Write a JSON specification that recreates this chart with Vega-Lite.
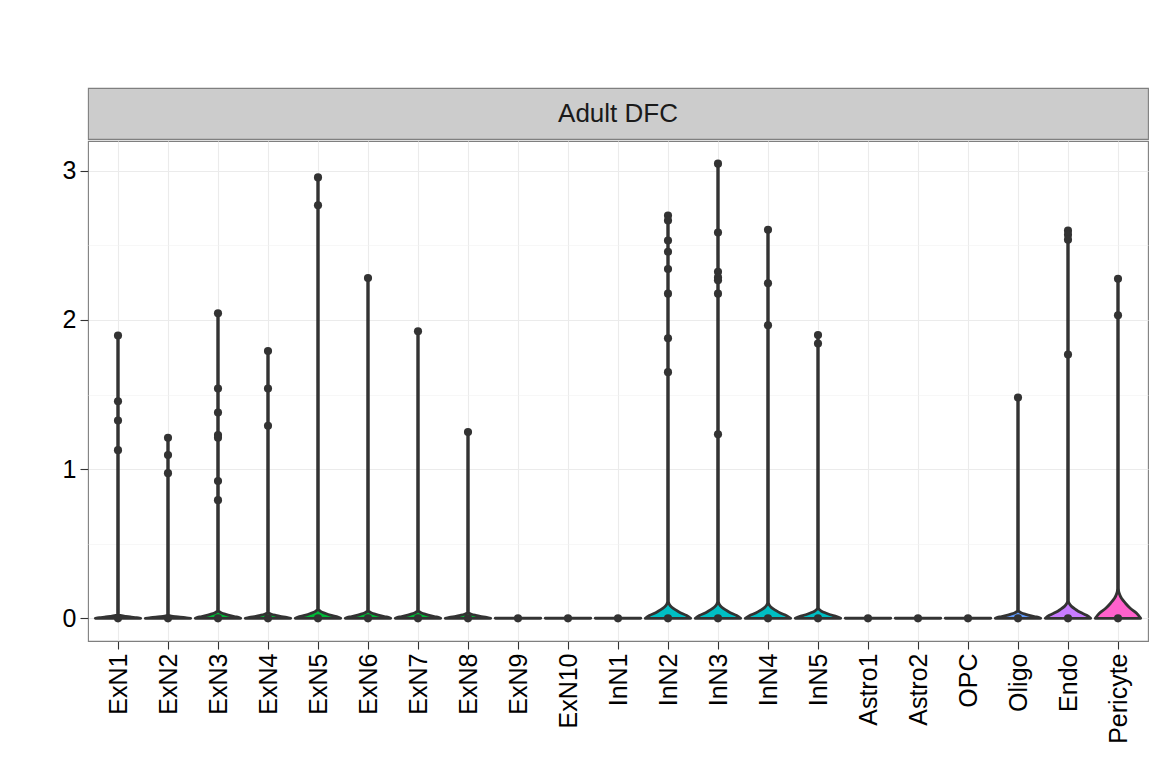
{
 "$schema": "https://vega.github.io/schema/vega-lite/v6.json",
 "background": "white",
 "padding": {"left": 61, "top": 87, "right": 5, "bottom": 5},
 "spacing": 0,
 "config": {"font": "Liberation Sans", "concat": {"spacing": 0}},
 "datasets": {
  "violin": [
   {"c":"ExN1","y":0,"lo":0.546,"hi":1.454},{"c":"ExN1","y":0.0044,"lo":0.628,"hi":1.372},{"c":"ExN1","y":0.0088,"lo":0.755,"hi":1.245},{"c":"ExN1","y":0.0132,"lo":0.85,"hi":1.15},{"c":"ExN1","y":0.0176,"lo":0.93,"hi":1.07},{"c":"ExN1","y":0.022,"lo":0.976,"hi":1.024},{"c":"ExN1","y":0.0264,"lo":0.992,"hi":1.008},{"c":"ExN1","y":1.895,"lo":0.994,"hi":1.006},
   {"c":"ExN2","y":0,"lo":1.546,"hi":2.454},{"c":"ExN2","y":0.0036,"lo":1.628,"hi":2.372},{"c":"ExN2","y":0.0072,"lo":1.755,"hi":2.245},{"c":"ExN2","y":0.0108,"lo":1.85,"hi":2.15},{"c":"ExN2","y":0.0144,"lo":1.93,"hi":2.07},{"c":"ExN2","y":0.018,"lo":1.976,"hi":2.024},{"c":"ExN2","y":0.0216,"lo":1.992,"hi":2.008},{"c":"ExN2","y":1.21,"lo":1.994,"hi":2.006},
   {"c":"ExN3","y":0,"lo":2.546,"hi":3.454},{"c":"ExN3","y":0.009,"lo":2.628,"hi":3.372},{"c":"ExN3","y":0.018,"lo":2.755,"hi":3.245},{"c":"ExN3","y":0.027,"lo":2.85,"hi":3.15},{"c":"ExN3","y":0.036,"lo":2.93,"hi":3.07},{"c":"ExN3","y":0.045,"lo":2.976,"hi":3.024},{"c":"ExN3","y":0.054,"lo":2.992,"hi":3.008},{"c":"ExN3","y":2.045,"lo":2.994,"hi":3.006},
   {"c":"ExN4","y":0,"lo":3.546,"hi":4.454},{"c":"ExN4","y":0.0068,"lo":3.628,"hi":4.372},{"c":"ExN4","y":0.0136,"lo":3.755,"hi":4.245},{"c":"ExN4","y":0.0204,"lo":3.85,"hi":4.15},{"c":"ExN4","y":0.0272,"lo":3.93,"hi":4.07},{"c":"ExN4","y":0.034,"lo":3.976,"hi":4.024},{"c":"ExN4","y":0.0408,"lo":3.992,"hi":4.008},{"c":"ExN4","y":1.792,"lo":3.994,"hi":4.006},
   {"c":"ExN5","y":0,"lo":4.546,"hi":5.454},{"c":"ExN5","y":0.0108,"lo":4.628,"hi":5.372},{"c":"ExN5","y":0.0216,"lo":4.755,"hi":5.245},{"c":"ExN5","y":0.0324,"lo":4.85,"hi":5.15},{"c":"ExN5","y":0.0432,"lo":4.93,"hi":5.07},{"c":"ExN5","y":0.054,"lo":4.976,"hi":5.024},{"c":"ExN5","y":0.0648,"lo":4.992,"hi":5.008},{"c":"ExN5","y":2.955,"lo":4.994,"hi":5.006},
   {"c":"ExN6","y":0,"lo":5.546,"hi":6.454},{"c":"ExN6","y":0.009,"lo":5.628,"hi":6.372},{"c":"ExN6","y":0.018,"lo":5.755,"hi":6.245},{"c":"ExN6","y":0.027,"lo":5.85,"hi":6.15},{"c":"ExN6","y":0.036,"lo":5.93,"hi":6.07},{"c":"ExN6","y":0.045,"lo":5.976,"hi":6.024},{"c":"ExN6","y":0.054,"lo":5.992,"hi":6.008},{"c":"ExN6","y":2.281,"lo":5.994,"hi":6.006},
   {"c":"ExN7","y":0,"lo":6.546,"hi":7.454},{"c":"ExN7","y":0.009,"lo":6.628,"hi":7.372},{"c":"ExN7","y":0.018,"lo":6.755,"hi":7.245},{"c":"ExN7","y":0.027,"lo":6.85,"hi":7.15},{"c":"ExN7","y":0.036,"lo":6.93,"hi":7.07},{"c":"ExN7","y":0.045,"lo":6.976,"hi":7.024},{"c":"ExN7","y":0.054,"lo":6.992,"hi":7.008},{"c":"ExN7","y":1.924,"lo":6.994,"hi":7.006},
   {"c":"ExN8","y":0,"lo":7.546,"hi":8.454},{"c":"ExN8","y":0.0068,"lo":7.628,"hi":8.372},{"c":"ExN8","y":0.0136,"lo":7.755,"hi":8.245},{"c":"ExN8","y":0.0204,"lo":7.85,"hi":8.15},{"c":"ExN8","y":0.0272,"lo":7.93,"hi":8.07},{"c":"ExN8","y":0.034,"lo":7.976,"hi":8.024},{"c":"ExN8","y":0.0408,"lo":7.992,"hi":8.008},{"c":"ExN8","y":1.248,"lo":7.994,"hi":8.006},
   {"c":"ExN9","y":0,"lo":8.546,"hi":9.454},{"c":"ExN9","y":0.001,"lo":8.546,"hi":9.454},
   {"c":"ExN10","y":0,"lo":9.546,"hi":10.454},{"c":"ExN10","y":0.001,"lo":9.546,"hi":10.454},
   {"c":"InN1","y":0,"lo":10.546,"hi":11.454},{"c":"InN1","y":0.001,"lo":10.546,"hi":11.454},
   {"c":"InN2","y":0,"lo":11.546,"hi":12.454},{"c":"InN2","y":0.019,"lo":11.628,"hi":12.372},{"c":"InN2","y":0.038,"lo":11.755,"hi":12.245},{"c":"InN2","y":0.057,"lo":11.85,"hi":12.15},{"c":"InN2","y":0.076,"lo":11.93,"hi":12.07},{"c":"InN2","y":0.095,"lo":11.976,"hi":12.024},{"c":"InN2","y":0.114,"lo":11.992,"hi":12.008},{"c":"InN2","y":2.699,"lo":11.994,"hi":12.006},
   {"c":"InN3","y":0,"lo":12.546,"hi":13.454},{"c":"InN3","y":0.019,"lo":12.628,"hi":13.372},{"c":"InN3","y":0.038,"lo":12.755,"hi":13.245},{"c":"InN3","y":0.057,"lo":12.85,"hi":13.15},{"c":"InN3","y":0.076,"lo":12.93,"hi":13.07},{"c":"InN3","y":0.095,"lo":12.976,"hi":13.024},{"c":"InN3","y":0.114,"lo":12.992,"hi":13.008},{"c":"InN3","y":3.047,"lo":12.994,"hi":13.006},
   {"c":"InN4","y":0,"lo":13.546,"hi":14.454},{"c":"InN4","y":0.018,"lo":13.628,"hi":14.372},{"c":"InN4","y":0.036,"lo":13.755,"hi":14.245},{"c":"InN4","y":0.054,"lo":13.85,"hi":14.15},{"c":"InN4","y":0.072,"lo":13.93,"hi":14.07},{"c":"InN4","y":0.09,"lo":13.976,"hi":14.024},{"c":"InN4","y":0.108,"lo":13.992,"hi":14.008},{"c":"InN4","y":2.604,"lo":13.994,"hi":14.006},
   {"c":"InN5","y":0,"lo":14.546,"hi":15.454},{"c":"InN5","y":0.012,"lo":14.628,"hi":15.372},{"c":"InN5","y":0.024,"lo":14.755,"hi":15.245},{"c":"InN5","y":0.036,"lo":14.85,"hi":15.15},{"c":"InN5","y":0.048,"lo":14.93,"hi":15.07},{"c":"InN5","y":0.06,"lo":14.976,"hi":15.024},{"c":"InN5","y":0.072,"lo":14.992,"hi":15.008},{"c":"InN5","y":1.898,"lo":14.994,"hi":15.006},
   {"c":"Astro1","y":0,"lo":15.546,"hi":16.454},{"c":"Astro1","y":0.001,"lo":15.546,"hi":16.454},
   {"c":"Astro2","y":0,"lo":16.546,"hi":17.454},{"c":"Astro2","y":0.001,"lo":16.546,"hi":17.454},
   {"c":"OPC","y":0,"lo":17.546,"hi":18.454},{"c":"OPC","y":0.001,"lo":17.546,"hi":18.454},
   {"c":"Oligo","y":0,"lo":18.546,"hi":19.454},{"c":"Oligo","y":0.009,"lo":18.628,"hi":19.372},{"c":"Oligo","y":0.018,"lo":18.755,"hi":19.245},{"c":"Oligo","y":0.027,"lo":18.85,"hi":19.15},{"c":"Oligo","y":0.036,"lo":18.93,"hi":19.07},{"c":"Oligo","y":0.045,"lo":18.976,"hi":19.024},{"c":"Oligo","y":0.054,"lo":18.992,"hi":19.008},{"c":"Oligo","y":1.48,"lo":18.994,"hi":19.006},
   {"c":"Endo","y":0,"lo":19.546,"hi":20.454},{"c":"Endo","y":0.02,"lo":19.628,"hi":20.372},{"c":"Endo","y":0.04,"lo":19.755,"hi":20.245},{"c":"Endo","y":0.06,"lo":19.85,"hi":20.15},{"c":"Endo","y":0.08,"lo":19.93,"hi":20.07},{"c":"Endo","y":0.1,"lo":19.976,"hi":20.024},{"c":"Endo","y":0.12,"lo":19.992,"hi":20.008},{"c":"Endo","y":2.598,"lo":19.994,"hi":20.006},
   {"c":"Pericyte","y":0,"lo":20.546,"hi":21.454},{"c":"Pericyte","y":0.0336,"lo":20.628,"hi":21.372},{"c":"Pericyte","y":0.0672,"lo":20.755,"hi":21.245},{"c":"Pericyte","y":0.1008,"lo":20.85,"hi":21.15},{"c":"Pericyte","y":0.1344,"lo":20.93,"hi":21.07},{"c":"Pericyte","y":0.168,"lo":20.976,"hi":21.024},{"c":"Pericyte","y":0.2016,"lo":20.992,"hi":21.008},{"c":"Pericyte","y":2.275,"lo":20.994,"hi":21.006}
  ],
  "pts": [
   {"c":"ExN1","i":1,"v":0},{"c":"ExN1","i":1,"v":1.895},{"c":"ExN1","i":1,"v":1.455},{"c":"ExN1","i":1,"v":1.326},{"c":"ExN1","i":1,"v":1.127},
   {"c":"ExN2","i":2,"v":0},{"c":"ExN2","i":2,"v":1.21},{"c":"ExN2","i":2,"v":1.094},{"c":"ExN2","i":2,"v":0.973},
   {"c":"ExN3","i":3,"v":0},{"c":"ExN3","i":3,"v":2.045},{"c":"ExN3","i":3,"v":1.54},{"c":"ExN3","i":3,"v":1.379},{"c":"ExN3","i":3,"v":1.228},{"c":"ExN3","i":3,"v":1.21},{"c":"ExN3","i":3,"v":0.92},{"c":"ExN3","i":3,"v":0.792},
   {"c":"ExN4","i":4,"v":0},{"c":"ExN4","i":4,"v":1.792},{"c":"ExN4","i":4,"v":1.54},{"c":"ExN4","i":4,"v":1.29},
   {"c":"ExN5","i":5,"v":0},{"c":"ExN5","i":5,"v":2.955},{"c":"ExN5","i":5,"v":2.768},
   {"c":"ExN6","i":6,"v":0},{"c":"ExN6","i":6,"v":2.281},
   {"c":"ExN7","i":7,"v":0},{"c":"ExN7","i":7,"v":1.924},
   {"c":"ExN8","i":8,"v":0},{"c":"ExN8","i":8,"v":1.248},
   {"c":"ExN9","i":9,"v":0},{"c":"ExN10","i":10,"v":0},{"c":"InN1","i":11,"v":0},
   {"c":"InN2","i":12,"v":0},{"c":"InN2","i":12,"v":2.699},{"c":"InN2","i":12,"v":2.666},{"c":"InN2","i":12,"v":2.532},{"c":"InN2","i":12,"v":2.457},{"c":"InN2","i":12,"v":2.341},{"c":"InN2","i":12,"v":2.176},{"c":"InN2","i":12,"v":1.877},{"c":"InN2","i":12,"v":1.65},
   {"c":"InN3","i":13,"v":0},{"c":"InN3","i":13,"v":3.047},{"c":"InN3","i":13,"v":2.586},{"c":"InN3","i":13,"v":2.323},{"c":"InN3","i":13,"v":2.285},{"c":"InN3","i":13,"v":2.265},{"c":"InN3","i":13,"v":2.176},{"c":"InN3","i":13,"v":1.234},
   {"c":"InN4","i":14,"v":0},{"c":"InN4","i":14,"v":2.604},{"c":"InN4","i":14,"v":2.245},{"c":"InN4","i":14,"v":1.964},
   {"c":"InN5","i":15,"v":0},{"c":"InN5","i":15,"v":1.898},{"c":"InN5","i":15,"v":1.842},
   {"c":"Astro1","i":16,"v":0},{"c":"Astro2","i":17,"v":0},{"c":"OPC","i":18,"v":0},
   {"c":"Oligo","i":19,"v":0},{"c":"Oligo","i":19,"v":1.48},
   {"c":"Endo","i":20,"v":0},{"c":"Endo","i":20,"v":2.598},{"c":"Endo","i":20,"v":2.571},{"c":"Endo","i":20,"v":2.538},{"c":"Endo","i":20,"v":1.768},
   {"c":"Pericyte","i":21,"v":0},{"c":"Pericyte","i":21,"v":2.275},{"c":"Pericyte","i":21,"v":2.031}
  ]
 },
 "vconcat": [
  {
   "width": 1060, "height": 51,
   "view": {"fill": "#CCCCCC", "stroke": "#7F7F7F", "strokeWidth": 1.1},
   "data": {"values": [{"label": "Adult DFC"}]},
   "mark": {"type": "text", "fontSize": 26, "color": "#1A1A1A", "font": "Liberation Sans"},
   "encoding": {"text": {"field": "label"}}
  },
  {
   "width": 1060, "height": 500,
   "view": {"fill": "white", "stroke": "#7F7F7F", "strokeWidth": 1.1},
   "layer": [
    {
     "data": {"name": "violin"},
     "mark": {"type": "area", "orient": "horizontal", "interpolate": "monotone", "stroke": "#333333", "strokeWidth": 2.8, "strokeJoin": "round", "fillOpacity": 1},
     "encoding": {
      "y": {"field": "y", "type": "quantitative", "scale": {"domain": [-0.152, 3.199], "nice": false, "zero": false},
        "axis": {"title": null, "values": [0, 0.5, 1, 1.5, 2, 2.5, 3],
          "labelExpr": "datum.value % 1 === 0 ? format(datum.value, 'd') : ''",
          "tickOpacity": {"condition": {"test": "datum.value % 1 !== 0", "value": 0}, "value": 1},
          "gridWidth": {"condition": {"test": "datum.value % 1 !== 0", "value": 0.6}, "value": 1.1},
          "gridColor": {"condition": {"test": "datum.value % 1 !== 0", "value": "#F2F2F2"}, "value": "#EBEBEB"},
          "domain": false, "tickSize": 8, "tickColor": "#333333", "tickWidth": 1.1,
          "labelFontSize": 25, "labelColor": "#000000", "labelPadding": 4, "labelFont": "Liberation Sans"}},
      "x": {"field": "lo", "type": "quantitative", "scale": {"domain": [0.4, 21.6], "nice": false, "zero": false},
        "axis": {"title": null, "values": [1,2,3,4,5,6,7,8,9,10,11,12,13,14,15,16,17,18,19,20,21],
          "labelExpr": "['ExN1','ExN2','ExN3','ExN4','ExN5','ExN6','ExN7','ExN8','ExN9','ExN10','InN1','InN2','InN3','InN4','InN5','Astro1','Astro2','OPC','Oligo','Endo','Pericyte'][datum.value - 1]",
          "labelAngle": 270, "labelOverlap": false, "labelFlush": false, "labelBound": false,
          "gridColor": "#EBEBEB", "gridWidth": 1.1,
          "domain": false, "tickSize": 8, "tickColor": "#333333", "tickWidth": 1.1,
          "labelFontSize": 25, "labelColor": "#000000", "labelPadding": 4, "labelFont": "Liberation Sans"}},
      "x2": {"field": "hi"},
      "color": {"field": "c", "type": "nominal", "legend": null,
        "scale": {"domain": ["ExN1","ExN2","ExN3","ExN4","ExN5","ExN6","ExN7","ExN8","ExN9","ExN10","InN1","InN2","InN3","InN4","InN5","Astro1","Astro2","OPC","Oligo","Endo","Pericyte"],
          "range": ["#00BA38","#00BA38","#00BA38","#00BA38","#00BA38","#00BA38","#00BA38","#00BA38","#00BA38","#00BA38","#00BFC4","#00BFC4","#00BFC4","#00BFC4","#00BFC4","#00A9FF","#00A9FF","#00A9FF","#619CFF","#C77CFF","#FF61CC"]}}
     }
    },
    {
     "data": {"name": "pts"},
     "mark": {"type": "circle", "size": 66, "color": "#333333", "opacity": 1},
     "encoding": {
      "x": {"field": "i", "type": "quantitative", "scale": {"domain": [0.4, 21.6], "nice": false, "zero": false}, "axis": {"title": null}},
      "y": {"field": "v", "type": "quantitative", "scale": {"domain": [-0.152, 3.199], "nice": false, "zero": false}, "axis": {"title": null}}
     }
    }
   ]
  }
 ]
}
